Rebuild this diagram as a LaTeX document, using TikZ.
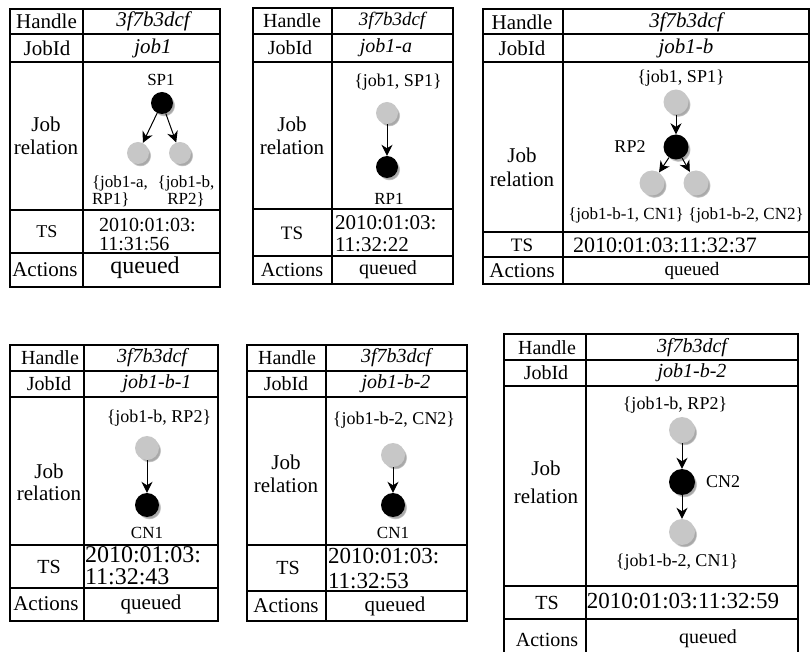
\documentclass[tikz,border=0pt]{standalone}
\usepackage{fontspec}
\setmainfont{Liberation Serif}
\usetikzlibrary{shadows,fadings,arrows.meta}
\tikzset{
  frame/.style={line width=1.5pt, line join=miter},
  txt/.style={inner sep=0pt, outer sep=0pt, font=\fontsize{#1}{#1}\selectfont},
  itx/.style={inner sep=0pt, outer sep=0pt, font=\fontsize{#1}{#1}\selectfont\itshape},
  bw/.style={inner sep=0pt, outer sep=0pt, anchor=base west, font=\fontsize{#1}{#1}\selectfont},
  two/.style 2 args={inner sep=0pt, outer sep=0pt, align=center, font=\fontsize{#1}{#2}\selectfont},
  twol/.style 2 args={inner sep=0pt, outer sep=0pt, align=left, anchor=west, font=\fontsize{#1}{#2}\selectfont},
  shd/.style={circular drop shadow={shadow xshift=2.2pt, shadow yshift=-2.5pt, shadow scale=1.0,
    opacity=.45, fill=black!75, path fading=circle with fuzzy edge 15 percent}},
  gnode/.style={circle, fill=black!22, minimum size=#1, inner sep=0pt, shd},
  bnode/.style={circle, fill=black, minimum size=#1, inner sep=0pt, shd},
  arr/.style={-{Stealth[length=11pt,width=11pt,inset=3.5pt]}, line width=1pt}
}
\newcommand\tgrid[9]{%
  \draw[frame] (#1,#4) rectangle (#3,#9);
  \draw[frame] (#2,#4) -- (#2,#9);
  \foreach \yy in {#5,#6,#7,#8} \draw[frame] (#1,\yy) -- (#3,\yy);
}
\begin{document}
\begin{tikzpicture}[x=1pt,y=-1pt]
\useasboundingbox (0,0) rectangle (812,652);

% ---------------- Table 1 ----------------
\tgrid{10}{83}{220}{9}{34}{62}{210}{253}{287}
\node[txt=21] (t1h) at (46.5,21.5) {Handle};
\node[itx=21] (t1hv) at (153,21.5) {3f7b3dcf};
\node[txt=21] (t1j) at (47,48) {JobId};
\node[itx=21] (t1jv) at (153,48) {job1};
\node[two={21}{23}] (t1r) at (46,136) {Job\\relation};
\node[txt=17] (t1sp) at (161,80) {SP1};
\node[bnode=22pt] (b1) at (162,103) {};
\node[gnode=22pt] (g1a) at (138,153) {};
\node[gnode=22pt] (g1b) at (180,153) {};
\draw[arr] (b1) -- (g1a);
\draw[arr] (b1) -- (g1b);
\node[twol={17}{17}] (t1la) at (92,191.5) {\{job1-a,\\RP1\}};
\node[two={17}{17}] (t1lb) at (186,191.5) {\{job1-b,\\RP2\}};
\node[txt=18] (t1ts) at (47,232) {TS};
\node[bw=20] (t1tv1) at (99,232) {2010:01:03:};
\node[bw=20] (t1tv2) at (99,251) {11:31:56};
\node[txt=21] (t1a) at (45,270) {Actions};
\node[txt=24] (t1av) at (145,268) {queued};

% ---------------- Table 2 ----------------
\tgrid{253}{332}{453}{8}{34}{62}{209}{256}{284}
\node[txt=20] (t2h) at (292,21) {Handle};
\node[itx=19] (t2hv) at (392,21) {3f7b3dcf};
\node[txt=20] (t2j) at (290,48) {JobId};
\node[itx=20] (t2jv) at (386,48) {job1-a};
\node[two={21}{23}] (t2r) at (292,136) {Job\\relation};
\node[txt=18] (t2top) at (398,82) {\{job1, SP1\}};
\node[gnode=22pt] (g2) at (387,113) {};
\node[bnode=22pt] (b2) at (387,167) {};
\draw[arr] (g2) -- (b2);
\node[txt=17] (t2rp) at (389,199) {RP1};
\node[txt=19] (t2ts) at (292,233) {TS};
\node[bw=21] (t2tv1) at (335,230) {2010:01:03:};
\node[bw=21] (t2tv2) at (335,252) {11:32:22};
\node[txt=20] (t2a) at (292,270) {Actions};
\node[txt=20] (t2av) at (388,270) {queued};

% ---------------- Table 3 ----------------
\tgrid{483}{563}{809}{9}{34}{62}{232}{257}{284}
\node[txt=21] (t3h) at (522,22) {Handle};
\node[itx=21] (t3hv) at (686,22) {3f7b3dcf};
\node[txt=21] (t3j) at (522,48) {JobId};
\node[itx=21] (t3jv) at (686,48) {job1-b};
\node[two={21}{24}] (t3r) at (522,167) {Job\\relation};
\node[txt=18] (t3top) at (681,78) {\{job1, SP1\}};
\node[gnode=25pt] (g3) at (676,102) {};
\node[bnode=25pt] (b3) at (676,147) {};
\node[txt=18] (t3rp) at (630,147) {RP2};
\node[gnode=25pt] (g3a) at (652,183) {};
\node[gnode=25pt] (g3b) at (696,183) {};
\draw[arr] (g3) -- (b3);
\draw[arr] (b3) -- (g3a);
\draw[arr] (b3) -- (g3b);
\node[txt=17] (t3la) at (626,215) {\{job1-b-1, CN1\}};
\node[txt=17] (t3lb) at (746,215) {\{job1-b-2, CN2\}};
\node[txt=19] (t3ts) at (522,245) {TS};
\node[txt=22] (t3tv) at (665,245) {2010:01:03:11:32:37};
\node[txt=21] (t3a) at (522,271) {Actions};
\node[txt=19] (t3av) at (692,271) {queued};

% ---------------- Table 4 ----------------
\tgrid{10}{84}{218}{345}{371}{397}{545}{588}{621}
\node[txt=20] (t4h) at (50,358) {Handle};
\node[itx=20] (t4hv) at (152,358) {3f7b3dcf};
\node[txt=20] (t4j) at (49,384) {JobId};
\node[itx=20] (t4jv) at (157,384) {job1-b-1};
\node[two={21}{22}] (t4r) at (49,482) {Job\\relation};
\node[txt=18] (t4top) at (159,418) {\{job1-b, RP2\}};
\node[gnode=24pt] (g4) at (147,448) {};
\node[bnode=24pt] (b4) at (147,505) {};
\draw[arr] (g4) -- (b4);
\node[txt=17] (t4cn) at (147,533) {CN1};
\node[txt=20] (t4ts) at (49,567) {TS};
\node[bw=24] (t4tv1) at (85,562) {2010:01:03:};
\node[bw=24] (t4tv2) at (85,584) {11:32:43};
\node[txt=21] (t4a) at (46,604) {Actions};
\node[txt=21] (t4av) at (151,604) {queued};

% ---------------- Table 5 ----------------
\tgrid{247}{326}{467}{345}{371}{397}{545}{591}{621}
\node[txt=20] (t5h) at (287,358) {Handle};
\node[itx=20] (t5hv) at (396,358) {3f7b3dcf};
\node[txt=20] (t5j) at (286,384) {JobId};
\node[itx=20] (t5jv) at (396,384) {job1-b-2};
\node[two={21}{23}] (t5r) at (286,474) {Job\\relation};
\node[txt=18] (t5top) at (394,420) {\{job1-b-2, CN2\}};
\node[gnode=24pt] (g5) at (393,455) {};
\node[bnode=24pt] (b5) at (393,505) {};
\draw[arr] (g5) -- (b5);
\node[txt=17] (t5cn) at (393,533) {CN1};
\node[txt=20] (t5ts) at (288,568) {TS};
\node[bw=23] (t5tv1) at (328,563) {2010:01:03:};
\node[bw=23] (t5tv2) at (328,588) {11:32:53};
\node[txt=21] (t5a) at (286,606) {Actions};
\node[txt=21] (t5av) at (395,606) {queued};

% ---------------- Table 6 ----------------
\draw[frame] (504,653) -- (504,334) -- (798,334) -- (798,653);
\draw[frame] (586,334) -- (586,653);
\foreach \yy in {360,386,586,619} \draw[frame] (504,\yy) -- (798,\yy);
\node[txt=20] (t6h) at (547,348) {Handle};
\node[itx=20] (t6hv) at (692,348) {3f7b3dcf};
\node[txt=20] (t6j) at (546,373) {JobId};
\node[itx=20] (t6jv) at (692,373) {job1-b-2};
\node[two={21}{28}] (t6r) at (546,482) {Job\\relation};
\node[txt=18] (t6top) at (675,405) {\{job1-b, RP2\}};
\node[gnode=26pt] (g6a) at (682,430) {};
\node[bnode=26pt] (b6) at (682,482) {};
\node[gnode=26pt] (g6b) at (682,532) {};
\draw[arr] (g6a) -- (b6);
\draw[arr] (b6) -- (g6b);
\node[txt=18] (t6cn) at (723,482) {CN2};
\node[txt=18] (t6bot) at (677,562) {\{job1-b-2, CN1\}};
\node[txt=20] (t6ts) at (547,603) {TS};
\node[txt=23] (t6tv) at (683,601) {2010:01:03:11:32:59};
\node[txt=20] (t6a) at (547,640) {Actions};
\node[txt=20] (t6av) at (708,639) {queued};
\end{tikzpicture}
\end{document}
